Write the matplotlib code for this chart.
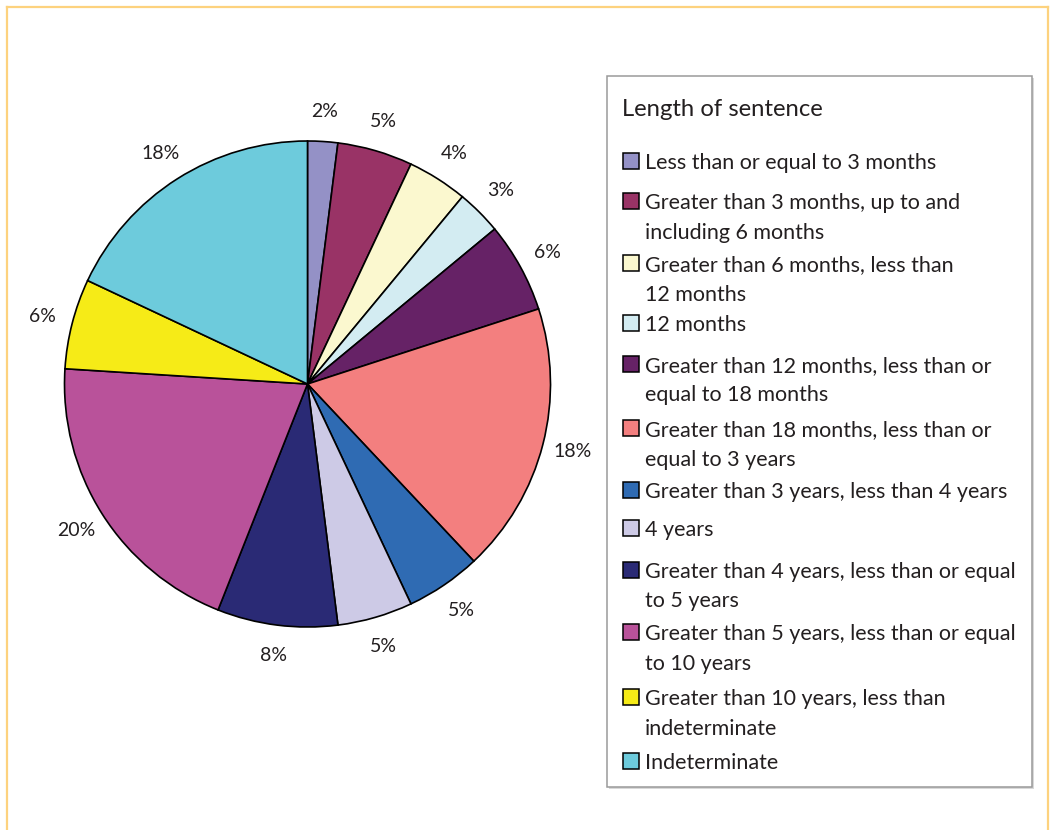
import matplotlib
matplotlib.use("Agg")
import matplotlib.pyplot as plt
from matplotlib.patches import Rectangle
from matplotlib.lines import Line2D

# ---- data -------------------------------------------------------------
categories = [
    "Less than or equal to 3 months",
    "Greater than 3 months, up to and\nincluding 6 months",
    "Greater than 6 months, less than\n12 months",
    "12 months",
    "Greater than 12 months, less than or\nequal to 18 months",
    "Greater than 18 months, less than or\nequal to 3 years",
    "Greater than 3 years, less than 4 years",
    "4 years",
    "Greater than 4 years, less than or equal\nto 5 years",
    "Greater than 5 years, less than or equal\nto 10 years",
    "Greater than 10 years, less than\nindeterminate",
    "Indeterminate",
]
shares = [2, 5, 4, 3, 6, 18, 5, 5, 8, 20, 6, 18]
colors = [
    "#9491C6", "#993366", "#FBF8CF", "#D3ECF2", "#662266", "#F37F7F",
    "#2F6BB3", "#CDCAE6", "#2A2A75", "#B9529A", "#F6EB17", "#6DCBDC",
]
legend_title = "Length of sentence"

# ---- figure -----------------------------------------------------------
W, H = 1050, 830
FONT = "Lato"
TEXT_COLOR = "#231F20"
fig = plt.figure(figsize=(W / 100, H / 100), dpi=100)
fig.patch.set_facecolor("white")


def fx(x):
    return x / W


def fy(y):
    return 1 - y / H


# golden page frame
frame_kw = dict(color="#FDD27E", lw=1.6, transform=fig.transFigure)
fig.add_artist(Line2D([fx(7), fx(7)], [fy(7), 0], **frame_kw))
fig.add_artist(Line2D([fx(7), fx(1048)], [fy(7), fy(7)], **frame_kw))
fig.add_artist(Line2D([fx(1048), fx(1048)], [fy(7), 0], **frame_kw))

# pie axes in pixel-like units
cx, cy, half = 307.5, 384, 300
ax = fig.add_axes([fx(cx - half), fy(cy + half), 2 * half / W, 2 * half / H])

R = 243
wedges, _, pct_texts = ax.pie(
    shares,
    colors=colors,
    radius=R,
    startangle=90,
    counterclock=False,
    autopct=lambda p: f"{p:.0f}%",
    pctdistance=1.125,
    wedgeprops=dict(edgecolor="black", linewidth=1.2),
    textprops=dict(fontsize=14, family=FONT, color=TEXT_COLOR),
)
ax.set_xlim(-half, half)
ax.set_ylim(-half, half)
ax.set_aspect("equal")
ax.axis("off")

# ---- legend box -------------------------------------------------------
box_l, box_t, box_r, box_b = 607, 76, 1032, 787
fig.add_artist(Rectangle((fx(box_l + 2), fy(box_b + 2)), (box_r - box_l) / W,
                         (box_b - box_t) / H, transform=fig.transFigure,
                         facecolor="#d9d9d9", edgecolor="none", zorder=1))
fig.add_artist(Rectangle((fx(box_l), fy(box_b)), (box_r - box_l) / W,
                         (box_b - box_t) / H, transform=fig.transFigure,
                         facecolor="white", edgecolor="#9a9a9a", lw=1.1,
                         zorder=2))

fig.text(fx(622), fy(115.5), legend_title, family=FONT, fontsize=17.2,
         color=TEXT_COLOR, va="baseline", ha="left", zorder=3)

entry_centers = [161.3, 201.3, 263.3, 323.3, 363.7, 428.3,
                 490.3, 528, 569.7, 632, 697.3, 761.3]
line_step = 29.5
sq = 16
for label, col, yc in zip(categories, colors, entry_centers):
    fig.add_artist(Rectangle((fx(623), fy(yc + sq / 2)), sq / W, sq / H,
                             transform=fig.transFigure, facecolor=col,
                             edgecolor="black", lw=1.1, zorder=3))
    for i, line in enumerate(label.split("\n")):
        fig.text(fx(645), fy(yc + 8 + i * line_step), line, family=FONT,
                 fontsize=15.5, color=TEXT_COLOR, va="baseline", ha="left",
                 zorder=3)

fig.savefig("out.png", dpi=100, facecolor="white")
